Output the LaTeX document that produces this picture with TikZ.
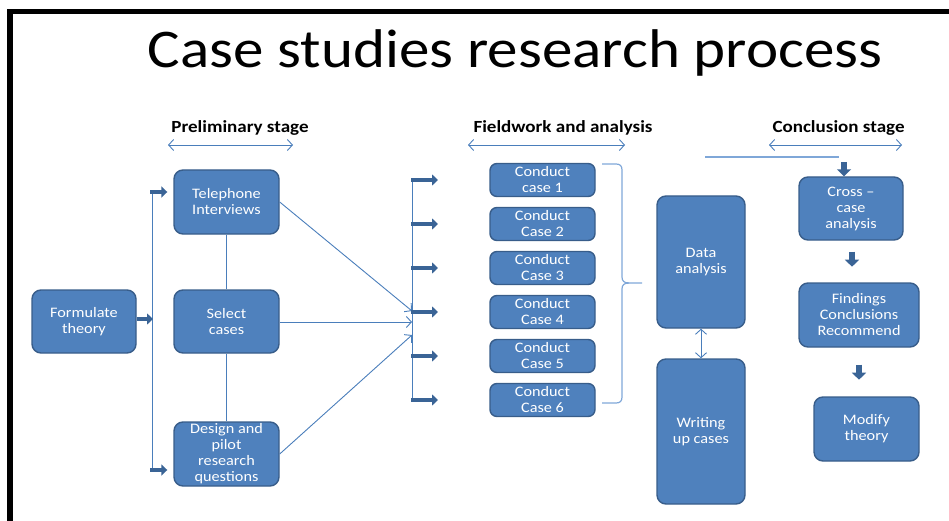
\documentclass[tikz,border=0pt]{standalone}
\usepackage{fontspec}
\setmainfont{Carlito}[FakeStretch=1.12]
\usetikzlibrary{arrows.meta}
\definecolor{boxfill}{HTML}{4F81BD}
\definecolor{boxline}{HTML}{385D8A}
\definecolor{blkarr}{HTML}{3A6496}
\definecolor{thinc}{HTML}{4A7EBB}
\definecolor{lightc}{HTML}{7FA7D8}
\begin{document}
\begin{tikzpicture}[x=1pt,y=-1pt,
  box/.style={draw=boxline, fill=boxfill, line width=1.4pt, rounded corners=9pt,
    text=white, align=center, inner sep=0pt, font=\fontsize{14.5}{16}\selectfont},
  casebox/.style={box, minimum width=105pt, minimum height=33pt, rounded corners=7pt},
  stagelbl/.style={font=\bfseries\fontsize{17}{19}\selectfont, inner sep=0pt},
  blk/.style={blkarr, line width=4.5pt, -{Triangle[length=6pt,width=11pt]}},
  vblk/.style={blkarr, line width=6pt, -{Triangle[length=7pt,width=14pt]}},
  thinline/.style={thinc, line width=0.9pt},
  thinarr/.style={thinc, line width=0.9pt, -{Straight Barb[length=5pt,width=11pt]}},
  dblarr/.style={thinc, line width=0.9pt, {Straight Barb[length=5pt,width=11pt]}-{Straight Barb[length=5pt,width=11pt]}},
  lightline/.style={lightc, line width=1.2pt}]
\useasboundingbox (0,0) rectangle (949,521);
% frame
\fill[black] (7,9) rectangle (949,14);
\fill[black] (7,9) rectangle (13,521);
% title
\node[font=\fontsize{54.5}{60}\selectfont, anchor=base, inner sep=0pt] (title) at (515,68) {Case studies research process};
% stage labels
\node[stagelbl] (st1) at (240,128) {Preliminary stage};
\node[stagelbl] (st2) at (563,128) {Fieldwork and analysis};
\node[stagelbl] (st3) at (838.5,128) {Conclusion stage};
\coordinate (s1a) at (168,145); \coordinate (s1b) at (293,145);
\coordinate (s2a) at (468,145); \coordinate (s2b) at (625,145);
\coordinate (s3a) at (769,145); \coordinate (s3b) at (902,145);
\draw[dblarr] (s1a) -- (s1b);
\draw[dblarr] (s2a) -- (s2b);
\draw[dblarr] (s3a) -- (s3b);
% boxes
\node[box, minimum width=104pt, minimum height=63pt] (form) at (84,321.5) {Formulate\\theory};
\node[box, minimum width=105pt, minimum height=64pt] (tel) at (226.5,202) {Telephone\\Interviews};
\node[box, minimum width=105pt, minimum height=63pt] (sel) at (226.5,321.5) {Select\\cases};
\node[box, minimum width=105pt, minimum height=64pt] (des) at (226.5,454) {Design and\\pilot\\research\\questions};
\node[casebox] (cas1) at (542.5,180) {Conduct\\case 1};
\node[casebox] (cas2) at (542.5,224) {Conduct\\Case 2};
\node[casebox] (cas3) at (542.5,268) {Conduct\\Case 3};
\node[casebox] (cas4) at (542.5,312) {Conduct\\Case 4};
\node[casebox] (cas5) at (542.5,356) {Conduct\\Case 5};
\node[casebox] (cas6) at (542.5,400) {Conduct\\Case 6};
\node[box, minimum width=88pt, minimum height=132pt] (data) at (701,262) {Data\\analysis};
\node[box, minimum width=88pt, minimum height=145pt] (write) at (701,431.5) {Writing\\up cases};
\node[box, minimum width=104pt, minimum height=63pt] (cross) at (851,208.5) {Cross --\\case\\analysis};
\node[box, minimum width=120pt, minimum height=64pt] (find) at (859,315) {Findings\\Conclusions\\Recommend};
\node[box, minimum width=105pt, minimum height=64pt] (mod) at (866.5,429) {Modify\\theory};
% left distribution
\coordinate (lt) at (152,192);
\coordinate (lm) at (153,319);
\coordinate (lb) at (152,470);
\draw[thinline] (lt) -- (lb);
\draw[blk] (form.east |- lm) -- (lm);
\draw[blk, shorten >=6pt] ([xshift=-2pt]lt) -- (tel.west |- lt);
\draw[blk, shorten >=6pt] ([xshift=-2pt]lb) -- (des.west |- lb);
\draw[thinline] (tel.south) -- (sel.north);
\draw[thinline] (sel.south) -- (des.north);
% collector
\coordinate (c1) at (412,180);
\coordinate (c6) at (412,400);
\coordinate (in1) at (412,311);
\coordinate (in2) at (412,322);
\coordinate (in3) at (412,335);
\draw[thinline] (c1) -- (c6);
\draw[thinarr] (tel.east) -- (in1);
\draw[thinarr] (sel.east |- in2) -- (in2);
\draw[thinarr] (des.east) -- (in3);
\foreach \i in {1,...,6}{
  \draw[blk] (c1 |- cas\i.west) ++(-1,0) -- ++(27,0);
}
% brace
\coordinate (br1) at (602,164);
\coordinate (br2) at (602,403);
\coordinate (brt) at (642,283);
\draw[lightline] (br1) -- (616,164) .. controls (620,164) and (622,166) .. (622,170) -- (622,277)
  .. controls (622,281) and (624,283) .. (629,283) -- (brt);
\draw[lightline] (629,283) .. controls (624,283) and (622,285) .. (622,289) -- (622,397)
  .. controls (622,401) and (620,403) .. (616,403) -- (br2);
% data <-> write
\draw[dblarr] (data.south) -- (write.north);
% top line and conclusion arrows
\coordinate (tl1) at (705,157);
\coordinate (tl2) at (839,157);
\draw[lightline] (tl1) -- (tl2);
\coordinate (ca) at (844,162);
\draw[vblk] (ca) -- (ca |- cross.north);
\path (cross.south) ++(1,11) coordinate (a1);
\draw[vblk] (a1) -- ++(0,15);
\path (find.south) ++(0,17) coordinate (a2);
\draw[vblk] (a2) -- ++(0,15);
\end{tikzpicture}
\end{document}
